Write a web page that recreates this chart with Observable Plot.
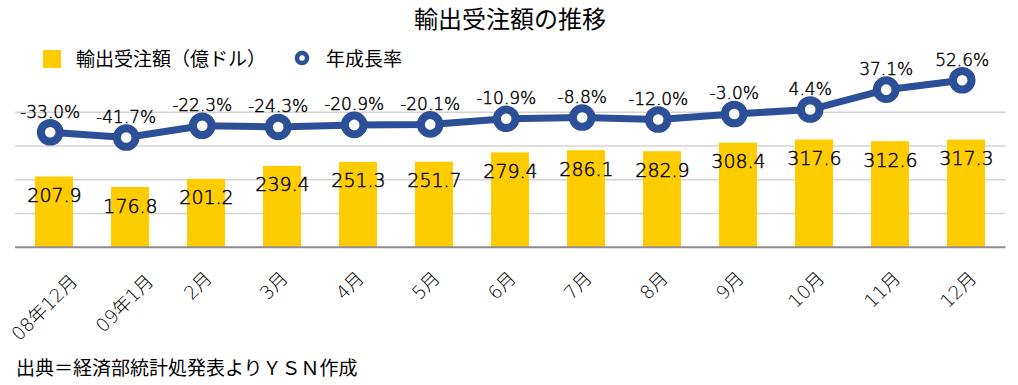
<!DOCTYPE html>
<html>
<head>
<meta charset="utf-8">
<script src="https://cdn.jsdelivr.net/npm/d3@7"></script>
<script src="https://cdn.jsdelivr.net/npm/@observablehq/plot@0.6"></script>
<style>
  body { margin: 0; background: #fff; }
  #wrap { position: relative; width: 1018px; height: 385px;
          font-family: "Noto Sans CJK JP", sans-serif; color: #000; }
  #chart { position: absolute; left: 0; top: 0; }
  #title { position: absolute; left: 0; top: 0; width: 1018px; box-sizing: border-box; padding-left: 2px;
           text-align: center; font-size: 24px; line-height: normal; }
  .lg { position: absolute; font-size: 19px; line-height: 20px; white-space: nowrap; }
  #sw1 { position: absolute; left: 43px; top: 50px; width: 18px; height: 18px; background: #FFCC00; }
  #sw2 { position: absolute; left: 290px; top: 49px; }
  #caption { position: absolute; left: 16px; top: 356px; font-size: 19px; line-height: 22px; white-space: nowrap; }
</style>
</head>
<body>
<div id="wrap">
  <div id="chart"></div>
  <div id="title">輸出受注額の推移</div>
  <div id="sw1"></div>
  <div class="lg" id="lg1" style="left:76px; top:48px;">輸出受注額（億ドル）</div>
  <svg id="sw2" width="24" height="18"><circle cx="12" cy="9" r="5" fill="#fff" stroke="#2c4f98" stroke-width="4.5"></circle></svg>
  <div class="lg" id="lg2" style="left:326px; top:48px;">年成長率</div>
  <div id="caption">出典＝経済部統計処発表よりＹＳＮ作成</div>
</div>
<script>
const categories = ["08年12月","09年1月","2月","3月","4月","5月","6月","7月","8月","9月","10月","11月","12月"];
const amounts = [207.9, 176.8, 201.2, 239.4, 251.3, 251.7, 279.4, 286.1, 282.9, 308.4, 317.6, 312.6, 317.3];
const growth = [-33.0, -41.7, -22.3, -24.3, -20.9, -20.1, -10.9, -8.8, -12.0, -3.0, 4.4, 37.1, 52.6];
const gridValues = [100, 200, 300, 400];

const rows = categories.map((c, i) => ({cat: c, amount: amounts[i], growth: growth[i]}));
// secondary axis for growth (%): 0% sits on the top gridline, 1% ≈ 1.8 units of the amount axis
const gy = d => 400 + d.growth * 1.8;

const numFont = "'DejaVu Sans', 'Noto Sans CJK JP', sans-serif";
const blue = "#2c4f98";
const longCats = categories.filter(c => c.length >= 5);
const midCats = categories.filter(c => c.length === 3);
const shortCats = categories.filter(c => c.length === 2);
const axisOpts = {tickSize: 0, tickPadding: 28, tickRotate: -45, fontSize: 18.5, fill: "#000", label: null, fontWeight: 300};
const numText = {fontWeight: 300, fill: "#000", stroke: "#000", strokeWidth: 0.45, paintOrder: "stroke"};

const chart = Plot.plot({
  width: 1018,
  height: 385,
  marginLeft: 15.2,
  marginRight: 12.5,
  marginTop: 111.7,
  marginBottom: 138.3,
  style: {fontFamily: numFont, background: "transparent", overflow: "visible"},
  x: {domain: categories, paddingInner: 0.495, paddingOuter: 0.2475, axis: null},
  y: {domain: [0, 400], axis: null},
  marks: [
    Plot.ruleY(gridValues, {stroke: "#d3d3d3", strokeWidth: 1.5}),
    Plot.barY(rows, {x: "cat", y: "amount", fill: "#FFCC00"}),
    Plot.ruleY([0], {stroke: "#8c8c8c", strokeWidth: 2}),
    Plot.text(rows, {x: "cat", y: "amount", text: d => d.amount.toFixed(1), dy: 19, fontSize: 19, ...numText}),
    Plot.line(rows, {x: "cat", y: gy, stroke: blue, strokeWidth: 7, dx: -4.3}),
    Plot.dot(rows, {x: "cat", y: gy, r: 9.3, stroke: blue, strokeWidth: 8, fill: "#fff", dx: -4.3}),
    Plot.text(rows, {x: "cat", y: gy, text: d => d.growth.toFixed(1) + "%", dy: -20, dx: -4.3, fontSize: 17, ...numText}),
    Plot.axisX(shortCats, {...axisOpts, dx: 2.5}),
    Plot.axisX(midCats, {...axisOpts, dx: 7}),
    Plot.axisX(longCats, {...axisOpts, dx: 20, tickPadding: 31})
  ]
});
document.getElementById("chart").appendChild(chart);
</script>
</body>
</html>
